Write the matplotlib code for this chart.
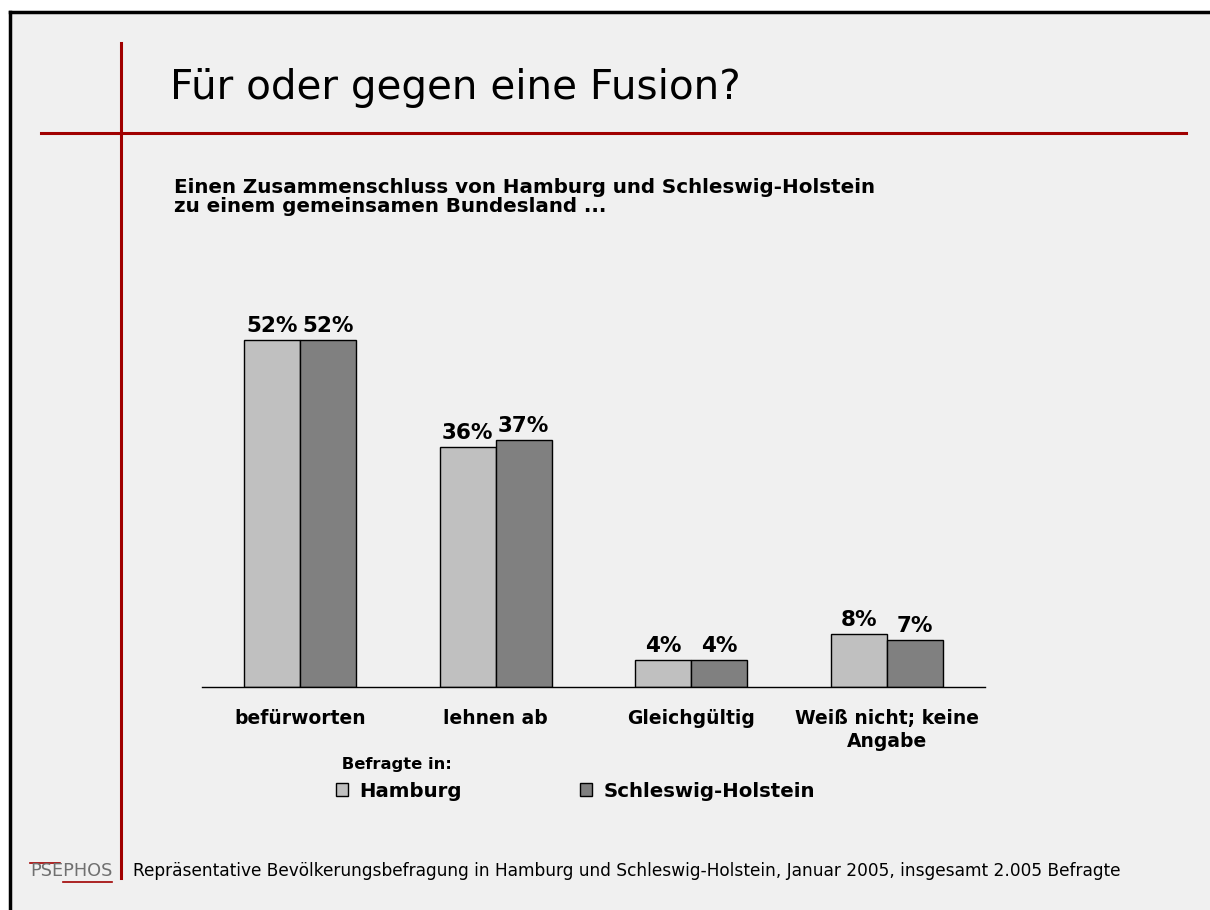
import matplotlib.pyplot as plt
import numpy as np
from matplotlib.lines import Line2D

# --- Daten ---
kategorien = ['befürworten', 'lehnen ab', 'Gleichgültig', 'Weiß nicht; keine\nAngabe']
hamburg = [52, 36, 4, 8]
schleswig_holstein = [52, 37, 4, 7]
serien = ['Hamburg', 'Schleswig-Holstein']

W, H = 1210, 910
fig = plt.figure(figsize=(W / 100, H / 100), dpi=100, facecolor='white')

def fx(px):
    return px / W

def fy(py):
    return 1 - py / H

# Hintergrund mit Rahmen links/oben
fig.patches.append(plt.Rectangle((fx(11), 0), 1, fy(13), transform=fig.transFigure,
                                 facecolor='#f0f0f0', edgecolor='none', zorder=-10))
fig.lines.append(Line2D([fx(10), fx(10)], [0, fy(12)], transform=fig.transFigure, color='black', lw=2.5))
fig.lines.append(Line2D([fx(10), 1], [fy(12), fy(12)], transform=fig.transFigure, color='black', lw=2.5))

# rote Linien
rot = '#a00000'
fig.lines.append(Line2D([fx(121), fx(121)], [fy(43), fy(878)], transform=fig.transFigure, color=rot, lw=2.2))
fig.lines.append(Line2D([fx(41), fx(1186)], [fy(133), fy(133)], transform=fig.transFigure, color=rot, lw=2.2))

# Titel und Untertitel
fig.text(fx(170), fy(88), 'Für oder gegen eine Fusion?', fontsize=29.2, va='center', ha='left')
fig.text(fx(174), fy(197), 'Einen Zusammenschluss von Hamburg und Schleswig-Holstein\nzu einem gemeinsamen Bundesland ...',
         fontsize=14.3, fontweight='bold', va='center', ha='left', linespacing=1.05)

# --- Diagramm ---
ax_left, ax_right, ax_base, ax_top = 202, 985, 687, 287
ax = fig.add_axes([fx(ax_left), fy(ax_base), fx(ax_right - ax_left), (ax_base - ax_top) / H])
ax.set_facecolor('none')
ax.set_xlim(-0.5, 3.5)
ax.set_ylim(0, 60)

x = np.arange(len(kategorien))
b = 0.286
bars1 = ax.bar(x - b / 2, hamburg, b, color='#c0c0c0', edgecolor='black', lw=1, label=serien[0])
bars2 = ax.bar(x + b / 2, schleswig_holstein, b, color='#808080', edgecolor='black', lw=1, label=serien[1])

for bars, vals in ((bars1, hamburg), (bars2, schleswig_holstein)):
    for r, v in zip(bars, vals):
        ax.annotate(f'{v}%', (r.get_x() + r.get_width() / 2, v), textcoords='offset points', xytext=(0, 3),
                    ha='center', va='bottom', fontsize=15.5, fontweight='bold')

for s in ['top', 'right', 'left']:
    ax.spines[s].set_visible(False)
ax.spines['bottom'].set_linewidth(1)
ax.set_yticks([])
ax.set_xticks(x)
ax.set_xticklabels(kategorien, fontsize=13.5, fontweight='bold', va='top')
for t in ax.get_xticklabels():
    t.set_linespacing(1.3)
ax.tick_params(axis='x', length=0, pad=15.5)

leg = fig.legend(handles=[bars1, bars2], loc='upper left', bbox_to_anchor=(fx(318), fy(739)), ncol=2,
                 frameon=False, title=' Befragte in:', alignment='left',
                 prop={'weight': 'bold', 'size': 14.2}, handlelength=0.6, handleheight=0.6,
                 handletextpad=0.6, columnspacing=6.0)
leg.get_title().set_fontweight('bold')
leg.get_title().set_fontsize(11.8)

# Fußzeile
fig.text(fx(30), fy(871), 'PSEPHOS', fontsize=12.8, color='#707070', va='center', ha='left')
fig.lines.append(Line2D([fx(30), fx(60)], [fy(863), fy(863)], transform=fig.transFigure, color=rot, lw=1.2))
fig.lines.append(Line2D([fx(63), fx(112)], [fy(882), fy(882)], transform=fig.transFigure, color=rot, lw=1.2))
fig.text(fx(133), fy(871), 'Repräsentative Bevölkerungsbefragung in Hamburg und Schleswig-Holstein, Januar 2005, insgesamt 2.005 Befragte',
         fontsize=12.25, va='center', ha='left')

fig.savefig('out.png', dpi=100, facecolor=fig.get_facecolor())
